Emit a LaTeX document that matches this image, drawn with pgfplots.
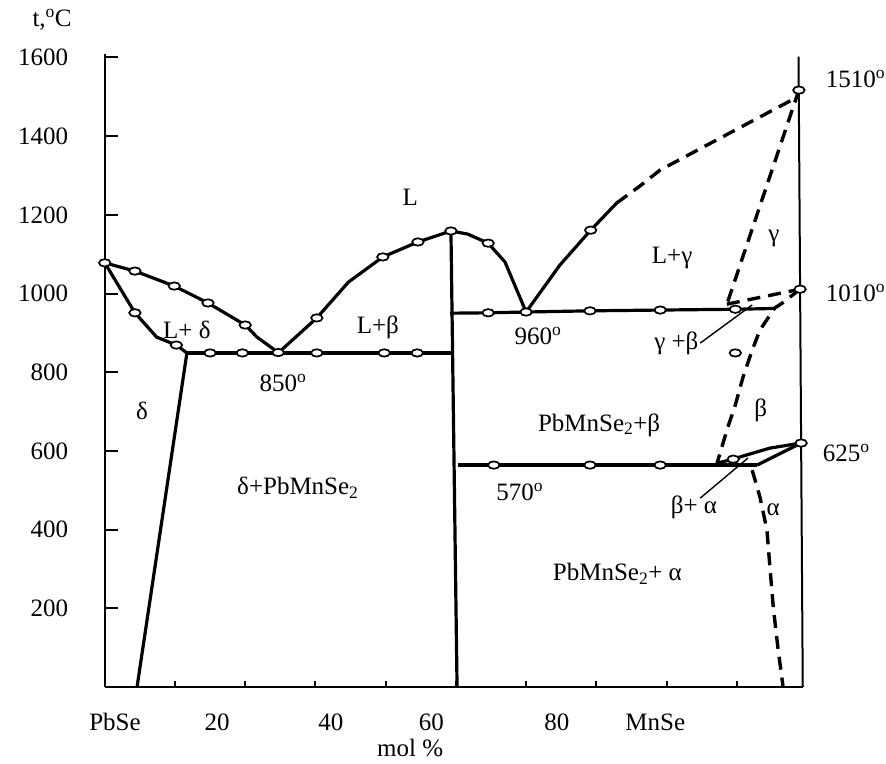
\documentclass[border=0pt]{standalone}
\usepackage{fontspec}
\setmainfont{Liberation Serif}
\usepackage{pgfplots}
\pgfplotsset{compat=1.18}
\begin{document}
\fontsize{25bp}{29bp}\selectfont
\begin{tikzpicture}
\path[use as bounding box] (-104.75bp,-77bp) rectangle (781.25bp,687bp);
\begin{axis}[
  at={(0,0)}, anchor=south west,
  scale only axis, width=698bp, height=633.1bp,
  xmin=0, xmax=99.4, ymin=0, ymax=1609,
  clip=false,
  axis x line*=bottom, axis y line*=left,
  axis line style={line width=2bp, black},
  xtick pos=lower, ytick pos=left,
  xtick={10,20,...,90}, xticklabels={},
  ytick={200,400,...,1600},
  tick align=inside,
  major tick length=13bp,
  xtick style={/pgfplots/major tick length=6bp},
  tick style={line width=2bp, black},
  /pgf/number format/assume math mode=true,
  /pgf/number format/set thousands separator={},
  yticklabel style={xshift=-28bp},
  phase/.style={line width=3.2bp, black, mark=none},
  dsh/.style={line width=3.4bp, black, mark=none, dash pattern=on 13bp off 8bp},
  thinl/.style={line width=1.4bp, black, mark=none},
]
% left liquidus
\addplot[phase] coordinates {(0,1078)(4.3,1057)(9.9,1019)(14.7,976)(20.0,920)(21.7,889)(24.7,850)};
% delta solidus
\addplot[phase] coordinates {(0,1078)(4.3,951)(7.4,889)(10.2,869)(11.7,849)};
% delta solvus
\addplot[phase] coordinates {(11.7,849)(4.6,0)};
% 850 eutectic line
\addplot[phase] coordinates {(11.7,849)(49.65,849)};
% liquidus to compound maximum
\addplot[phase] coordinates {(24.7,849)(30.2,938)(34.7,1029)(39.6,1093)(44.6,1131)(49.3,1159)};
% compound maximum to 960 eutectic
\addplot[phase] coordinates {(49.3,1159)(51.7,1151)(54.6,1128)(57.0,1080)(60.0,953)};
% compound line
\addplot[phase] coordinates {(49.3,1159)(50.17,0)};
% 960 line
\addplot[phase] coordinates {(49.2,950)(54.6,951)(60.0,953)(69.1,956)(79.1,958)(89.8,960)(95.4,962)};
% right liquidus solid
\addplot[phase] coordinates {(60.0,953)(64.8,1072)(69.2,1161)(72.9,1230)};
% right liquidus dashed
\addplot[dsh] coordinates {(72.9,1230)(76.2,1273)(79.1,1314)(98.6,1499)(98.85,1517)};
% gamma solvus
\addplot[dsh] coordinates {(98.85,1517)(88.6,973)};
% gamma + beta upper
\addplot[dsh] coordinates {(88.6,973)(99.02,1011)};
% beta solvus
\addplot[dsh] coordinates {(99.02,1011)(96.5,976)(95.4,963)(93.3,907)(92.2,856)(90.9,788)(89.8,717)(88.6,653)(87.2,569)};
% 570 line
\addplot[phase] coordinates {(50.3,564)(92.9,564)};
% beta+alpha lens
\addplot[phase] coordinates {(87.2,569)(89.5,579)(90.9,587)(94.7,607)(99.17,620)};
\addplot[phase] coordinates {(92.9,564)(99.17,620)};
% alpha solvus
\addplot[dsh] coordinates {(92.2,551)(93.3,483)(94.3,399)(94.7,310)(95.2,203)(95.9,94)(96.6,0)};
% pointer lines
\addplot[thinl] coordinates {(84.8,874)(92.2,971)};
\addplot[thinl] coordinates {(84.8,480)(91.6,582)};
% right axis line
\addplot[line width=2bp, black, mark=none] coordinates {(98.8,1602)(99.4,0)};
% experimental points
\addplot[only marks, mark=*, mark size=3.7bp,
  mark options={xscale=1.55, fill=white, draw=black, line width=1.7bp, solid}]
  coordinates {
  (0,1078)(4.3,1057)(9.9,1019)(14.7,976)(20.0,920)(24.7,850)
  (4.3,951)(10.2,869)
  (15.0,849)(19.6,849)(30.2,849)(39.8,849)(44.5,849)
  (30.2,938)(39.6,1093)(44.6,1131)(49.3,1159)(54.6,1128)
  (54.6,951)(60.0,953)(69.1,956)(79.1,958)(89.8,960)
  (69.2,1161)
  (98.85,1517)(99.02,1011)(99.17,620)
  (89.8,849)
  (55.4,564)(69.1,564)(79.1,564)
  (89.5,579)
  };
% labels
\node at (axis cs:-7.5,1695) {t,\textsuperscript{o}C};
\node at (axis cs:43.5,1245) {L};
\node at (axis cs:11.7,907) {L+ δ};
\node at (axis cs:38.9,915) {L+β};
\node at (axis cs:25.4,773) {850\textsuperscript{o}};
\node at (axis cs:61.7,892) {960\textsuperscript{o}};
\node at (axis cs:80.8,1090) {L+γ};
\node at (axis cs:95.3,1141) {γ};
\node at (axis cs:106.9,1545) {1510\textsuperscript{o}};
\node at (axis cs:106.9,1001) {1010\textsuperscript{o}};
\node at (axis cs:81.4,874) {γ +β};
\node at (axis cs:93.4,704) {β};
\node at (axis cs:105.6,595) {625\textsuperscript{o}};
\node at (axis cs:83.9,457) {β+ α};
\node at (axis cs:95.2,450) {α};
\node at (axis cs:70.4,666) {PbMnSe\textsubscript{2}+β};
\node at (axis cs:73.0,287) {PbMnSe\textsubscript{2}+ α};
\node at (axis cs:27.5,506) {δ+PbMnSe\textsubscript{2}};
\node at (axis cs:5.3,701) {δ};
\node at (axis cs:59.1,496) {570\textsuperscript{o}};
\node at (axis cs:1.46,-89) {PbSe};
\node at (axis cs:16.0,-89) {20};
\node at (axis cs:32.2,-89) {40};
\node at (axis cs:46.5,-89) {60};
\node at (axis cs:64.4,-89) {80};
\node at (axis cs:78.4,-89) {MnSe};
\node at (axis cs:43.5,-156) {mol \%};
\end{axis}
\end{tikzpicture}
\end{document}
